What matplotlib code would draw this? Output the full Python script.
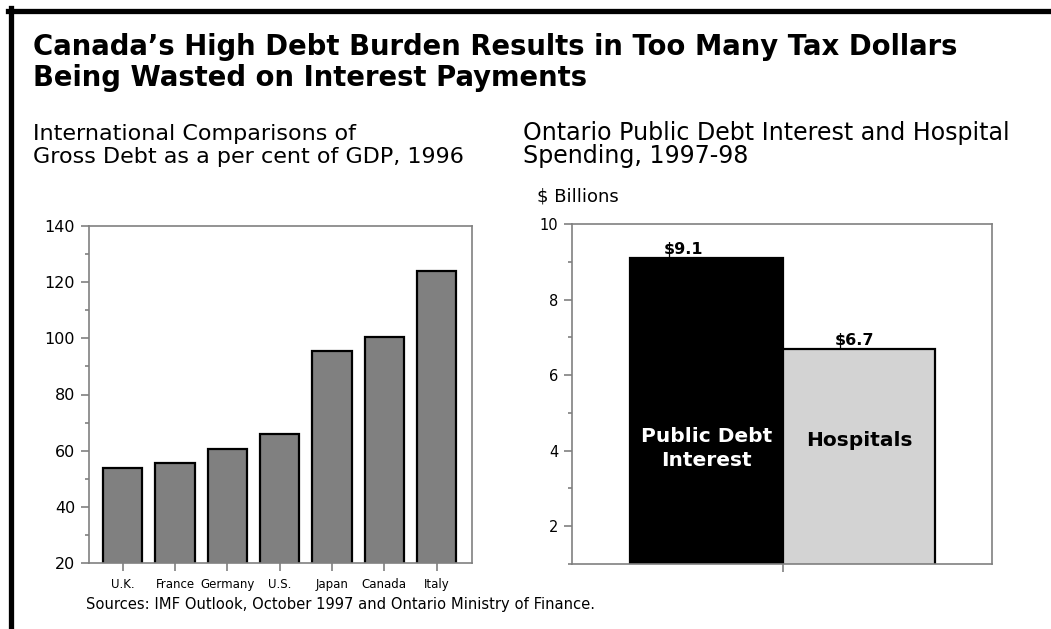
import matplotlib
matplotlib.use("Agg")
import matplotlib.pyplot as plt
from matplotlib.lines import Line2D
from matplotlib.ticker import MultipleLocator

plt.rcParams['font.family'] = ['DejaVu Sans']

# gross debt, % of GDP, 1996
countries = ["U.K.", "France", "Germany", "U.S.", "Japan", "Canada", "Italy"]
debt_pct = [54, 55.5, 60.7, 66, 95.5, 100.5, 124]

# Ontario spending 1997-98, $ billions
items = ["Public Debt\nInterest", "Hospitals"]
spending = [9.1, 6.7]
spend_labels = ["$9.1", "$6.7"]

W, H = 1051, 629
fig = plt.figure(figsize=(W / 100, H / 100), dpi=100)

def px(x0, y0, x1, y1):
    # pixel box (top-left origin) -> figure fraction rect
    return [x0 / W, 1 - y1 / H, (x1 - x0) / W, (y1 - y0) / H]

def label(x, y, s, **kw):
    fig.text(x / W, 1 - y / H, s, va="baseline", ha="left", **kw)

# frame lines on top and left
fig.add_artist(Line2D([8 / W, 1], [1 - 10.5 / H, 1 - 10.5 / H], color="black", lw=3.8,
                      transform=fig.transFigure))
fig.add_artist(Line2D([10.5 / W, 10.5 / W], [0, 1 - 8 / H], color="black", lw=3.8,
                      transform=fig.transFigure))

label(33, 55, "Canada\u2019s High Debt Burden Results in Too Many Tax Dollars",
      fontsize=19.8, fontweight="bold")
label(33, 86, "Being Wasted on Interest Payments", fontsize=19.8, fontweight="bold")

label(33, 140, "International Comparisons of", fontsize=16)
label(33, 163, "Gross Debt as a per cent of GDP, 1996", fontsize=16)
label(523, 140, "Ontario Public Debt Interest and Hospital", fontsize=17.1)
label(523, 163, "Spending, 1997-98", fontsize=17.1)
label(537, 202, "$ Billions", fontsize=13)

label(86, 609, "Sources: IMF Outlook, October 1997 and Ontario Ministry of Finance.",
      fontsize=10.6)

spine_gray = "#808080"

# left chart
ax1 = fig.add_axes(px(89, 226, 472, 563))
xs = range(len(countries))
ax1.bar(xs, debt_pct, width=0.75, bottom=0, color="#808080", edgecolor="black", linewidth=1.6)
ax1.set_ylim(20, 140)
ax1.set_xlim(-0.645, 6.675)
ax1.set_xticks(list(xs))
ax1.set_xticklabels(countries, fontsize=8.5)
ax1.yaxis.set_major_locator(MultipleLocator(20))
ax1.yaxis.set_minor_locator(MultipleLocator(10))
ax1.tick_params(axis="y", labelsize=11.5)

# right chart
ax2 = fig.add_axes(px(572, 224, 992, 564))
ax2.bar([0, 1], spending, width=1, align="edge", color=["black", "#d3d3d3"],
        edgecolor="black", linewidth=1.6)
ax2.set_ylim(1, 10)
ax2.set_xlim(-0.38, 2.37)
ax2.set_xticks([1])
ax2.set_xticklabels([""])
ax2.yaxis.set_major_locator(MultipleLocator(2))
ax2.yaxis.set_minor_locator(MultipleLocator(1))
ax2.tick_params(axis="y", labelsize=10.5)
# value labels sit a little left of bar centre
for i, (v, lab, dx) in enumerate(zip(spending, spend_labels, [-0.15, -0.03])):
    ax2.text(i + 0.5 + dx, v + 0.03, lab, ha="center", va="bottom", fontsize=11.5,
             fontweight="bold")
ax2.text(0.5, 4.06, items[0], ha="center", va="center", fontsize=14.5, fontweight="bold",
         color="white", linespacing=1.35)
ax2.text(1.5, 4.27, items[1], ha="center", va="center", fontsize=14.5, fontweight="bold",
         color="black")

for ax in (ax1, ax2):
    for s in ax.spines.values():
        s.set_color(spine_gray)
        s.set_linewidth(1.2)
    ax.tick_params(axis="both", which="major", length=6, width=1.2, color=spine_gray, direction="out")
    ax.tick_params(axis="y", which="minor", length=3, width=1.2, color=spine_gray, direction="out")
    ax.tick_params(axis="y", pad=4)
    ax.tick_params(axis="x", pad=5)

fig.savefig("out.png", dpi=100, facecolor="white")
